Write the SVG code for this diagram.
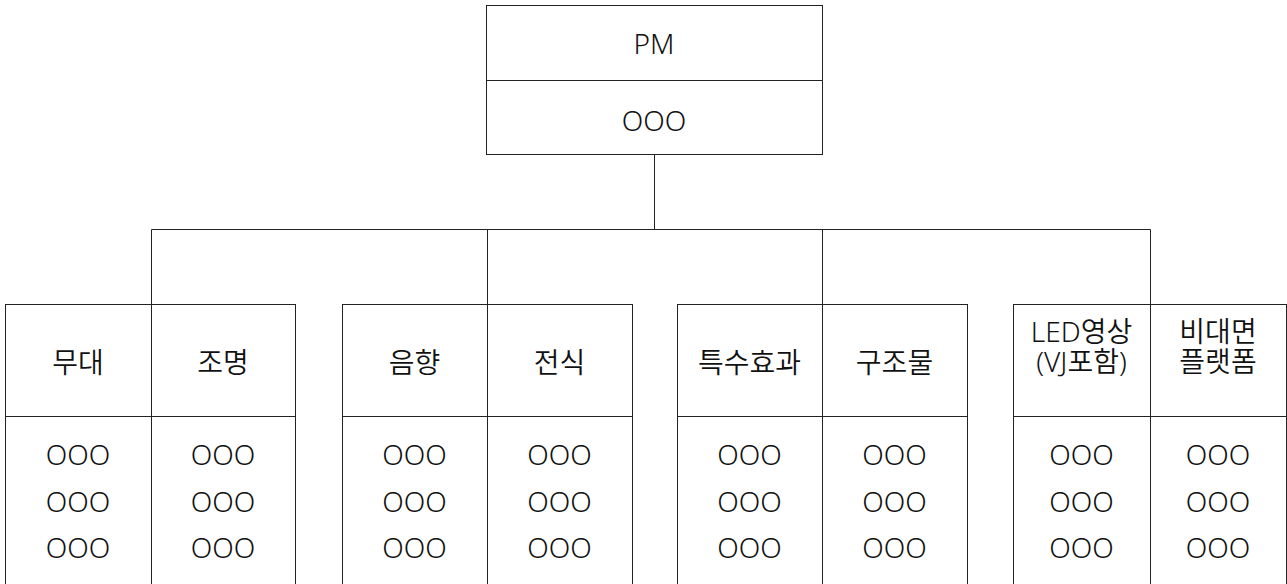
<svg xmlns="http://www.w3.org/2000/svg" width="1287" height="584" viewBox="0 0 1287 584">
<style>
.box{fill:#fff;stroke:#222;stroke-width:1}
.ln{fill:none;stroke:#222;stroke-width:1}
text{font-family:"Noto Sans","Noto Sans CJK KR",sans-serif;font-size:28px;font-weight:350;fill:#111;text-anchor:middle}
</style>
<rect width="1287" height="584" fill="#fff"/>
<g id="connectors">
<path class="ln" d="M654.5 154V229.5M151.5 229.5H1150.5M151.5 229.5V304M487.5 229.5V304M822.5 229.5V304M1150.5 229.5V304"/>
</g>
<g id="pm">
<rect class="box" x="486.5" y="5.5" width="336" height="149"/>
<path class="ln" d="M486.5 80.5H822.5"/>
<text x="654" y="54">PM</text>
<text x="654" y="131">OOO</text>
</g>
<g id="group1">
<rect class="box" x="5.5" y="304.5" width="290" height="300"/>
<path class="ln" d="M151.5 304.5V600M5.5 416.5H295.5"/>
<text x="78" y="373">무대</text>
<text x="223" y="373">조명</text>
<text x="78" y="465">OOO</text><text x="78" y="511.5">OOO</text><text x="78" y="558">OOO</text>
<text x="223" y="465">OOO</text><text x="223" y="511.5">OOO</text><text x="223" y="558">OOO</text>
</g>
<g id="group2">
<rect class="box" x="342.5" y="304.5" width="290" height="300"/>
<path class="ln" d="M487.5 304.5V600M342.5 416.5H632.5"/>
<text x="414.5" y="373">음향</text>
<text x="559.5" y="373">전식</text>
<text x="414.5" y="465">OOO</text><text x="414.5" y="511.5">OOO</text><text x="414.5" y="558">OOO</text>
<text x="559.5" y="465">OOO</text><text x="559.5" y="511.5">OOO</text><text x="559.5" y="558">OOO</text>
</g>
<g id="group3">
<rect class="box" x="677.5" y="304.5" width="290" height="300"/>
<path class="ln" d="M822.5 304.5V600M677.5 416.5H967.5"/>
<text x="749.5" y="373">특수효과</text>
<text x="894.5" y="373">구조물</text>
<text x="749.5" y="465">OOO</text><text x="749.5" y="511.5">OOO</text><text x="749.5" y="558">OOO</text>
<text x="894.5" y="465">OOO</text><text x="894.5" y="511.5">OOO</text><text x="894.5" y="558">OOO</text>
</g>
<g id="group4">
<rect class="box" x="1013.5" y="304.5" width="273" height="300"/>
<path class="ln" d="M1150.5 304.5V600M1013.5 416.5H1286.5"/>
<text x="1081.5" y="342">LED영상</text>
<text x="1081.5" y="372">(VJ포함)</text>
<text x="1218" y="342">비대면</text>
<text x="1218" y="372">플랫폼</text>
<text x="1081.5" y="465">OOO</text><text x="1081.5" y="511.5">OOO</text><text x="1081.5" y="558">OOO</text>
<text x="1218" y="465">OOO</text><text x="1218" y="511.5">OOO</text><text x="1218" y="558">OOO</text>
</g>
</svg>
